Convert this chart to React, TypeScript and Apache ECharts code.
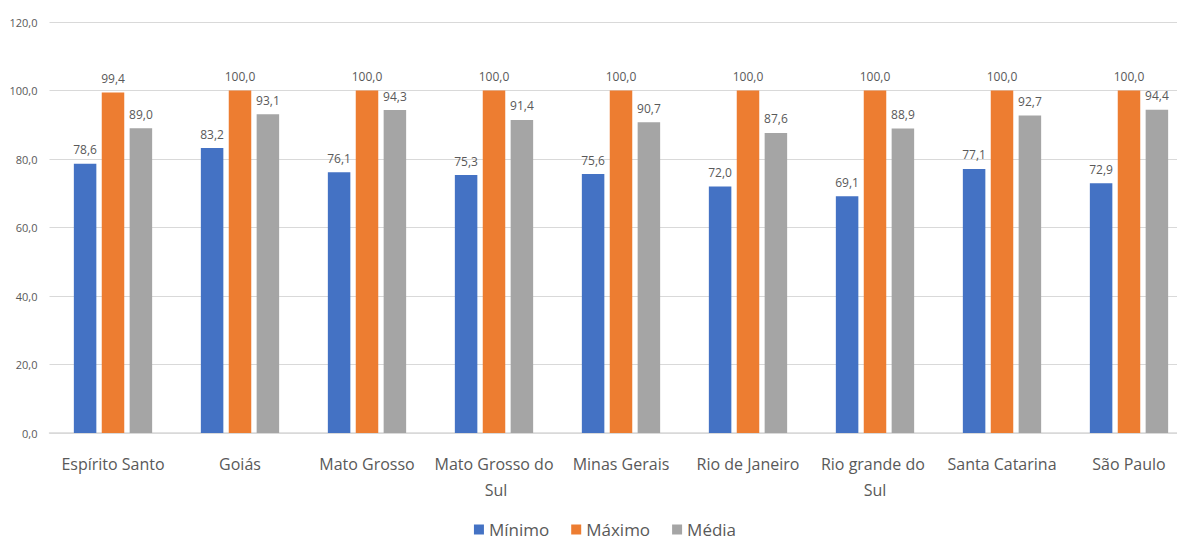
import React, { useEffect, useRef } from "react";
import * as echarts from "echarts";

const categories = [
  "Espírito Santo",
  "Goiás",
  "Mato Grosso",
  "Mato Grosso do Sul",
  "Minas Gerais",
  "Rio de Janeiro",
  "Rio grande do Sul",
  "Santa Catarina",
  "São Paulo",
];

const minimo = [78.6, 83.2, 76.1, 75.3, 75.6, 72.0, 69.1, 77.1, 72.9];
const maximo = [99.4, 100.0, 100.0, 100.0, 100.0, 100.0, 100.0, 100.0, 100.0];
const media = [89.0, 93.1, 94.3, 91.4, 90.7, 87.6, 88.9, 92.7, 94.4];

const seriesNames = ["Mínimo", "Máximo", "Média"];
const seriesColors = ["#4472C4", "#ED7D31", "#A5A5A5"];

const FONT = "'Open Sans', 'Noto Sans', sans-serif";

const fmt = (v: number) => v.toFixed(1).replace(".", ",");

export default function App() {
  const ref = useRef<HTMLDivElement>(null);

  useEffect(() => {
    if (!ref.current) return;
    const chart = echarts.init(ref.current, undefined, { renderer: "svg" });
    const mkSeries = (name: string, data: number[], color: string) => ({
      name,
      type: "bar",
      data,
      barWidth: 22.5,
      barGap: "24%",
      itemStyle: { color },
      label: {
        show: true,
        position: "top",
        distance: 8,
        color: "#595959",
        fontSize: 12,
        fontFamily: FONT,
        formatter: (p: any) => fmt(p.value),
      },
    });
    chart.setOption({
      animation: false,
      textStyle: { fontFamily: FONT },
      grid: { left: 49.5, top: 22, width: 1143, height: 411, containLabel: false },
      legend: {
        data: seriesNames,
        left: "center",
        top: 516,
        itemWidth: 10,
        itemHeight: 10,
        itemGap: 22,
        icon: "rect",
        textStyle: { fontSize: 17, color: "#595959", fontFamily: FONT },
      },
      xAxis: {
        type: "category",
        data: categories,
        axisLine: { lineStyle: { color: "#d9d9d9", width: 1.5 } },
        axisTick: { show: false },
        axisLabel: {
          color: "#595959",
          fontSize: 16,
          fontFamily: FONT,
          margin: 18,
          lineHeight: 26,
          width: 122,
          overflow: "break",
          interval: 0,
        },
      },
      yAxis: {
        type: "value",
        min: 0,
        max: 120,
        interval: 20,
        axisLine: { show: false },
        axisTick: { show: false },
        splitLine: { lineStyle: { color: "#d9d9d9", width: 1.2 } },
        axisLabel: {
          color: "#595959",
          fontSize: 11,
          fontFamily: FONT,
          margin: 12,
          formatter: (v: number) => fmt(v),
        },
      },
      series: [
        mkSeries(seriesNames[0], minimo, seriesColors[0]),
        mkSeries(seriesNames[1], maximo, seriesColors[1]),
        mkSeries(seriesNames[2], media, seriesColors[2]),
      ],
    });
    return () => chart.dispose();
  }, []);

  return (
    <div
      style={{
        position: "fixed",
        left: 0,
        top: 0,
        width: 1177,
        height: 542,
        overflow: "hidden",
        background: "#ffffff",
      }}
    >
      <div ref={ref} style={{ width: 1210, height: 542 }} />
    </div>
  );
}
